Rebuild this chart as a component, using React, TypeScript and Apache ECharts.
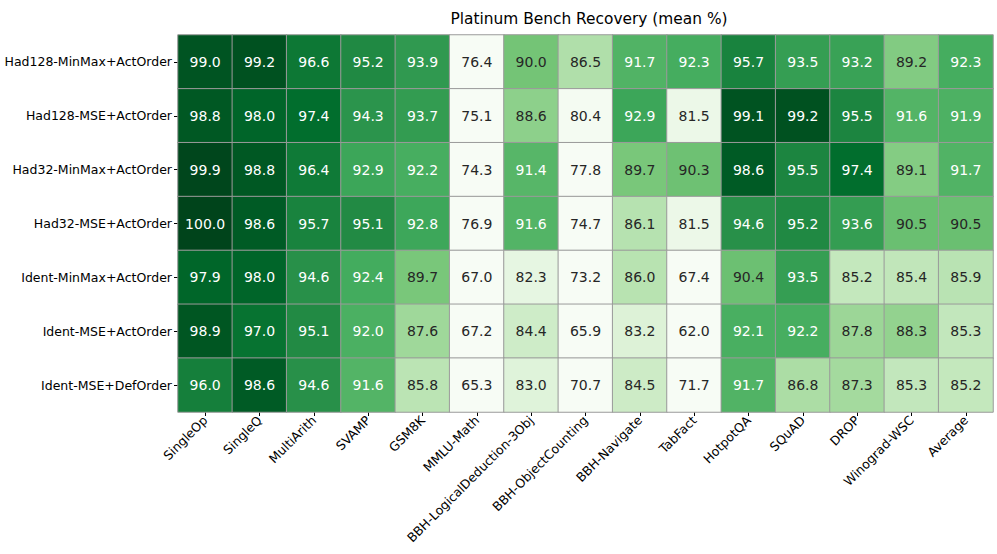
import React, { useEffect, useRef } from "react";
import * as echarts from "echarts";

const columns = [
  "SingleOp", "SingleQ", "MultiArith", "SVAMP", "GSM8K", "MMLU-Math",
  "BBH-LogicalDeduction-3Obj", "BBH-ObjectCounting", "BBH-Navigate", "TabFact",
  "HotpotQA", "SQuAD", "DROP", "Winograd-WSC", "Average",
];

const rowLabels = [
  "Had128-MinMax+ActOrder",
  "Had128-MSE+ActOrder",
  "Had32-MinMax+ActOrder",
  "Had32-MSE+ActOrder",
  "Ident-MinMax+ActOrder",
  "Ident-MSE+ActOrder",
  "Ident-MSE+DefOrder",
];

const had128MinMax = [99.0, 99.2, 96.6, 95.2, 93.9, 76.4, 90.0, 86.5, 91.7, 92.3, 95.7, 93.5, 93.2, 89.2, 92.3];
const had128Mse = [98.8, 98.0, 97.4, 94.3, 93.7, 75.1, 88.6, 80.4, 92.9, 81.5, 99.1, 99.2, 95.5, 91.6, 91.9];
const had32MinMax = [99.9, 98.8, 96.4, 92.9, 92.2, 74.3, 91.4, 77.8, 89.7, 90.3, 98.6, 95.5, 97.4, 89.1, 91.7];
const had32Mse = [100.0, 98.6, 95.7, 95.1, 92.8, 76.9, 91.6, 74.7, 86.1, 81.5, 94.6, 95.2, 93.6, 90.5, 90.5];
const identMinMax = [97.9, 98.0, 94.6, 92.4, 89.7, 67.0, 82.3, 73.2, 86.0, 67.4, 90.4, 93.5, 85.2, 85.4, 85.9];
const identMseAct = [98.9, 97.0, 95.1, 92.0, 87.6, 67.2, 84.4, 65.9, 83.2, 62.0, 92.1, 92.2, 87.8, 88.3, 85.3];
const identMseDef = [96.0, 98.6, 94.6, 91.6, 85.8, 65.3, 83.0, 70.7, 84.5, 71.7, 91.7, 86.8, 87.3, 85.3, 85.2];

const rows = [had128MinMax, had128Mse, had32MinMax, had32Mse, identMinMax, identMseAct, identMseDef];

// Greens colormap, saturating at 80 (white) and 100 (darkest)
const GREENS = ["#f7fcf5", "#e5f5e0", "#c7e9c0", "#a1d99b", "#74c476", "#41ab5d", "#238b45", "#006d2c", "#00441b"];
const VM_MIN = 60;
const VM_MAX = 100;
const vmColors = [...Array(8).fill(GREENS[0]), ...GREENS];

export default function App() {
  const ref = useRef<HTMLDivElement>(null);

  useEffect(() => {
    if (!ref.current) return;
    const chart = echarts.init(ref.current, undefined, { renderer: "svg" });
    const data: any[] = [];
    rows.forEach((row, r) => {
      row.forEach((v, c) => {
        data.push({
          value: [c, r, v],
          label: { color: v > 91 ? "#ffffff" : "#262626" },
        });
      });
    });
    const font = "DejaVu Sans";
    chart.setOption({
      animation: false,
      textStyle: { fontFamily: font },
      title: {
        text: "Platinum Bench Recovery (mean %)",
        left: 584,
        textAlign: "center",
        top: 6,
        textStyle: { fontFamily: font, fontSize: 15.4, fontWeight: "normal", color: "#000" },
      },
      grid: { left: 178, right: 4, top: 35, bottom: 142 },
      visualMap: {
        show: false,
        type: "continuous",
        min: VM_MIN,
        max: VM_MAX,
        dimension: 2,
        inRange: { color: vmColors },
      },
      xAxis: {
        type: "category",
        data: columns,
        axisLine: { show: false },
        axisTick: { show: true, alignWithLabel: true, length: 4, lineStyle: { color: "#000" } },
        axisLabel: { rotate: 45, interval: 0, fontSize: 12.5, color: "#000", fontFamily: font, margin: 6 },
        splitLine: { show: false },
        splitArea: { show: false },
      },
      yAxis: {
        type: "category",
        data: rowLabels,
        inverse: true,
        axisLine: { show: false },
        axisTick: { show: true, alignWithLabel: true, length: 4, lineStyle: { color: "#000" } },
        axisLabel: { fontSize: 12.5, color: "#000", fontFamily: font, margin: 6 },
        splitLine: { show: false },
        splitArea: { show: false },
      },
      series: [
        {
          type: "heatmap",
          data,
          itemStyle: { borderColor: "#9a9a9a", borderWidth: 1 },
          label: {
            show: true,
            fontSize: 14,
            fontFamily: font,
            formatter: (p: any) => Number(p.value[2]).toFixed(1),
          },
          emphasis: { disabled: true },
        },
      ],
    });
    return () => chart.dispose();
  }, []);

  return <div ref={ref} style={{ width: 997, height: 554, position: "absolute", left: 0, top: 0, background: "#fff" }} />;
}
